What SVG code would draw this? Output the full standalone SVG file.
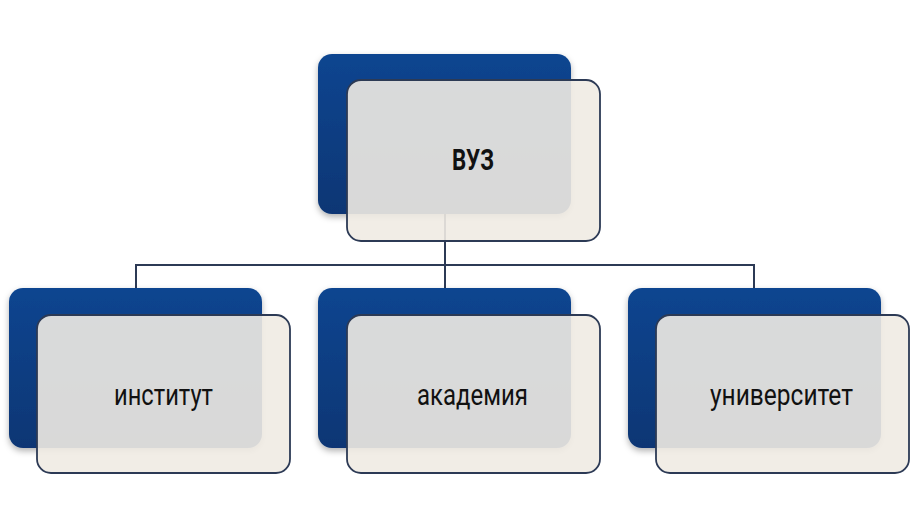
<svg xmlns="http://www.w3.org/2000/svg" width="912" height="529" viewBox="0 0 912 529">
<defs>
<linearGradient id="blueGrad" x1="0" y1="0" x2="0" y2="1">
<stop offset="0" stop-color="#0f4590"/>
<stop offset="1" stop-color="#0c3674"/>
</linearGradient>
<filter id="sh" x="-10%" y="-10%" width="120%" height="125%">
<feDropShadow dx="0" dy="3" stdDeviation="3" flood-color="#000" flood-opacity="0.3"/>
</filter>
</defs>
<style>
.back{fill:url(#blueGrad);filter:url(#sh)}
.front{fill:#efebe3;fill-opacity:0.9;stroke:#2c3a55;stroke-width:1.8}
.conn{stroke:#2c3a55;stroke-width:2;fill:none}
.lbl{font-family:Roboto,"Liberation Sans",sans-serif;fill:#111;font-size:30px}
.bold{font-weight:bold}
</style>
<rect width="912" height="529" fill="#ffffff"/>
<g id="connectors">
<path class="conn" d="M445 213 V265 M136 265 H755 M136 264 V289 M445 264 V289 M754 264 V289"/>
</g>
<g id="node-vuz">
<rect class="back" x="318" y="54" width="253" height="160" rx="14"/>
<rect class="front" x="347" y="80" width="253" height="161" rx="14"/>
<text class="lbl bold" x="452" y="170" textLength="42" lengthAdjust="spacingAndGlyphs">ВУЗ</text>
</g>
<g id="node-institut">
<rect class="back" x="9" y="288" width="253" height="160" rx="14"/>
<rect class="front" x="37" y="315" width="253" height="158" rx="14"/>
<text class="lbl" x="114" y="405" textLength="99" lengthAdjust="spacingAndGlyphs">институт</text>
</g>
<g id="node-akademiya">
<rect class="back" x="318" y="288" width="253" height="160" rx="14"/>
<rect class="front" x="347" y="315" width="253" height="158" rx="14"/>
<text class="lbl" x="417" y="405" textLength="111" lengthAdjust="spacingAndGlyphs">академия</text>
</g>
<g id="node-universitet">
<rect class="back" x="628" y="288" width="253" height="160" rx="14"/>
<rect class="front" x="656" y="315" width="253" height="158" rx="14"/>
<text class="lbl" x="710" y="405" textLength="143" lengthAdjust="spacingAndGlyphs">университет</text>
</g>
</svg>
